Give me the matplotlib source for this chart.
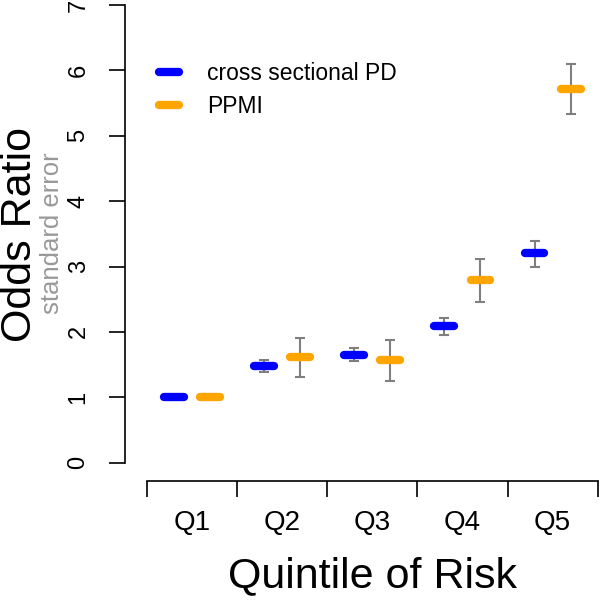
import matplotlib
matplotlib.use("Agg")
import matplotlib.pyplot as plt
from matplotlib.lines import Line2D
import numpy as np

plt.rcParams['font.family'] = ['Liberation Sans', 'DejaVu Sans']

categories = ["Q1", "Q2", "Q3", "Q4", "Q5"]
cs_or = [1.00, 1.48, 1.65, 2.09, 3.20]
cs_lo = [1.00, 1.39, 1.55, 1.96, 2.99]
cs_hi = [1.00, 1.57, 1.75, 2.22, 3.39]
ppmi_or = [1.00, 1.61, 1.57, 2.80, 5.71]
ppmi_lo = [1.00, 1.31, 1.25, 2.46, 5.33]
ppmi_hi = [1.00, 1.91, 1.88, 3.12, 6.09]
series_names = ["cross sectional PD", "PPMI"]
y_ticks = [0, 1, 2, 3, 4, 5, 6, 7]

W = H = 600
fig = plt.figure(figsize=(6, 6), dpi=100)

def fx(px):
    return px / W

def fy(py):
    return 1 - py / H

ax = fig.add_axes([fx(125), fy(480.7), fx(600) - fx(125), fy(0) - fy(480.7)])
ax.set_xlim(0.2594, 5.5255)
ax.set_ylim(-0.275, 7.075)

x = np.arange(1, len(categories) + 1)
off = 0.2
hw = 0.11
blue = "#0000FF"
orange = "#FFA500"
gray = "#7f7f7f"

for xs, vals, lo, hi, col in [(x - off, cs_or, cs_lo, cs_hi, blue),
                               (x + off, ppmi_or, ppmi_lo, ppmi_hi, orange)]:
    for xi, v, l, h in zip(xs, vals, lo, hi):
        if h > l:
            ax.errorbar([xi], [v], yerr=[[v - l], [h - v]], fmt='none',
                        ecolor=gray, elinewidth=1.5, capsize=3.8, capthick=1.5, zorder=2)
        ax.plot([xi - hw, xi + hw], [v, v], color=col, lw=6,
                solid_capstyle='round', zorder=3)

for s in ['top', 'right']:
    ax.spines[s].set_visible(False)
ax.spines['left'].set_bounds(0, 7)
ax.spines['bottom'].set_bounds(0.5, 5.5)
for s in ['left', 'bottom']:
    ax.spines[s].set_linewidth(1.2)

ax.set_yticks(y_ticks)
ax.set_yticklabels([str(t) for t in y_ticks], rotation=90, va='center', fontsize=17)
ax.tick_params(axis='y', length=11.5, width=1.2, pad=14)

ax.set_xticks(np.arange(0.5, len(categories) + 1, 1.0))
ax.set_xticklabels([])
ax.set_xticks(x, minor=True)
ax.set_xticklabels(categories, minor=True, fontsize=20)
ax.tick_params(axis='x', which='major', length=11.5, width=1.2)
ax.tick_params(axis='x', which='minor', length=0, pad=21)

fig.text(fx(20), fy(235), "Odds Ratio", rotation=90, ha='center', va='center', fontsize=31)
fig.text(fx(52), fy(233), "standard error", rotation=90, ha='center', va='center',
         fontsize=18.5, color="#999999")
fig.text(fx(373), fy(576), "Quintile of Risk", ha='center', va='center', fontsize=31)

handles = [Line2D([0], [0], color=blue, lw=6, solid_capstyle='round'),
           Line2D([0], [0], color=orange, lw=6, solid_capstyle='round')]
ax.legend(handles, series_names, loc='upper left', frameon=False, fontsize=16.5,
          bbox_to_anchor=(fx(150), fy(53)), bbox_transform=fig.transFigure,
          handlelength=0.88, handletextpad=1.2, labelspacing=0.42, borderaxespad=0)

fig.savefig("out.png", dpi=100)
